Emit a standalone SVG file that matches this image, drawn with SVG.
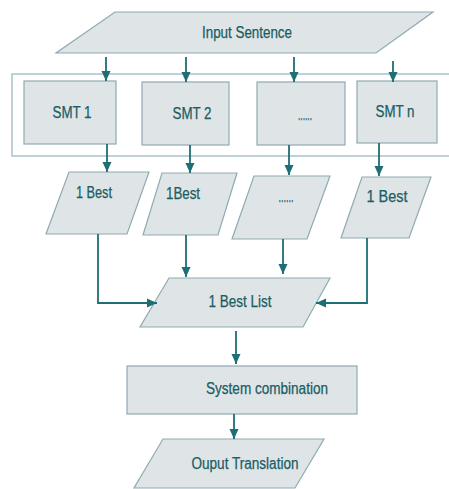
<svg xmlns="http://www.w3.org/2000/svg" width="449" height="489" viewBox="0 0 449 489">
<style>
.shape{fill:#dfe4e7;stroke:#8fabb1;stroke-width:1.2}
.box{fill:#ffffff;stroke:#a8c4c9;stroke-width:1.5}
.lbl{font-family:"Liberation Sans",Arial,sans-serif;font-size:16px;fill:#1a5d63;stroke:#1a5d63;stroke-width:0.25;text-anchor:middle}
.conn{fill:none;stroke:#1e6e75;stroke-width:1.8}
</style>
<defs>
<marker id="ah" markerWidth="10" markerHeight="10" viewBox="0 0 10 10" refX="10" refY="5" orient="auto" markerUnits="userSpaceOnUse">
<path d="M0,0.5 L10,5 L0,9.5 Z" fill="#1e6e75"/>
</marker>
</defs>
<rect x="0" y="0" width="449" height="489" fill="#ffffff"/>
<g id="container"><rect class="box" x="12" y="74" width="445" height="82"/></g>
<g id="input"><polygon class="shape" points="115,12 433,12 376,53 56,53"/><text class="lbl" x="247" y="38" textLength="90" lengthAdjust="spacingAndGlyphs">Input Sentence</text></g>
<g id="smt1"><rect class="shape" x="24" y="81" width="92" height="63"/><text class="lbl" x="72" y="118" textLength="39" lengthAdjust="spacingAndGlyphs">SMT 1</text></g>
<g id="smt2"><rect class="shape" x="142" y="82" width="87" height="63"/><text class="lbl" x="192" y="119" textLength="39" lengthAdjust="spacingAndGlyphs">SMT 2</text></g>
<g id="smtdots"><rect class="shape" x="257" y="82" width="88" height="63"/><text class="lbl" x="305" y="120" textLength="14" lengthAdjust="spacingAndGlyphs">......</text></g>
<g id="smtn"><rect class="shape" x="357" y="81" width="80" height="62"/><text class="lbl" x="395" y="117" textLength="39" lengthAdjust="spacingAndGlyphs">SMT n</text></g>
<g id="best1"><polygon class="shape" points="69,172 149,172 127,234 46,234"/><text class="lbl" x="94" y="198" textLength="36" lengthAdjust="spacingAndGlyphs">1 Best</text></g>
<g id="best2"><polygon class="shape" points="162,173 237,173 218,235 143,235"/><text class="lbl" x="183" y="199" textLength="34" lengthAdjust="spacingAndGlyphs">1Best</text></g>
<g id="bestdots"><polygon class="shape" points="254,176 330,176 307,239 232,239"/><text class="lbl" x="286" y="202" textLength="15" lengthAdjust="spacingAndGlyphs">......</text></g>
<g id="bestn"><polygon class="shape" points="362,177 431,177 409,238 341,238"/><text class="lbl" x="387" y="202" textLength="41" lengthAdjust="spacingAndGlyphs">1  Best</text></g>
<g id="bestlist"><polygon class="shape" points="169,278 330,278 303,327 140,327"/><text class="lbl" x="240" y="307" textLength="63" lengthAdjust="spacingAndGlyphs">1 Best List</text></g>
<g id="syscomb"><rect class="shape" x="127" y="366" width="230" height="48"/><text class="lbl" x="267" y="394" textLength="122" lengthAdjust="spacingAndGlyphs">System combination</text></g>
<g id="output"><polygon class="shape" points="163,439 324,439 295,488 134,488"/><text class="lbl" x="245" y="469" textLength="107" lengthAdjust="spacingAndGlyphs">Ouput Translation</text></g>
<g id="connectors">
<line class="conn" x1="106" y1="57" x2="106" y2="81" marker-end="url(#ah)"/>
<line class="conn" x1="186" y1="57" x2="186" y2="82" marker-end="url(#ah)"/>
<line class="conn" x1="294" y1="57" x2="294" y2="82" marker-end="url(#ah)"/>
<line class="conn" x1="393" y1="61" x2="393" y2="82" marker-end="url(#ah)"/>
<line class="conn" x1="107" y1="144" x2="107" y2="172" marker-end="url(#ah)"/>
<line class="conn" x1="190" y1="145" x2="190" y2="173" marker-end="url(#ah)"/>
<line class="conn" x1="289" y1="145" x2="289" y2="175" marker-end="url(#ah)"/>
<line class="conn" x1="379" y1="143" x2="379" y2="176" marker-end="url(#ah)"/>
<polyline class="conn" points="98,234 98,303 157,303" marker-end="url(#ah)"/>
<line class="conn" x1="186" y1="235" x2="186" y2="277" marker-end="url(#ah)"/>
<line class="conn" x1="283" y1="239" x2="283" y2="274" marker-end="url(#ah)"/>
<polyline class="conn" points="367,238 367,303 316,303" marker-end="url(#ah)"/>
<line class="conn" x1="236" y1="331" x2="236" y2="364" marker-end="url(#ah)"/>
<line class="conn" x1="234" y1="414" x2="234" y2="439" marker-end="url(#ah)"/>
</g>
</svg>
